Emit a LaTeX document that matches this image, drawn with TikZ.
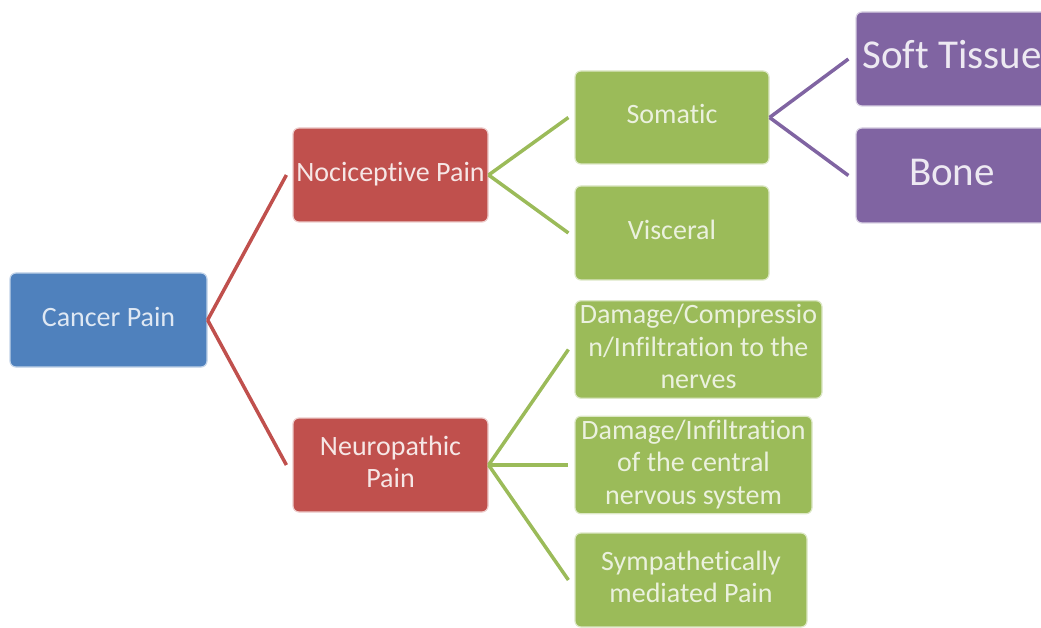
\documentclass[tikz,border=0pt]{standalone}
\usepackage{fontspec}
\setmainfont[Ligatures=NoCommon]{Carlito}
\definecolor{cblue}{HTML}{4F81BD}
\definecolor{cred}{HTML}{C0504D}
\definecolor{cgreen}{HTML}{9BBB59}
\definecolor{cpurple}{HTML}{8064A2}
% centred multi-line text that may run past the box edges
\newcommand{\boxtext}[1]{\makebox[0pt][c]{\raisebox{-2pt}{\begin{tabular}{@{}c@{}}#1\end{tabular}}}}
\tikzset{
  box/.style={rectangle, rounded corners=6pt, line width=1.2pt, inner sep=0pt,
    font=\fontsize{28}{32.5}\selectfont},
  bluebox/.style={box, fill=cblue, draw=cblue!35!white, text=cblue!18!white},
  redbox/.style={box, fill=cred, draw=cred!30!white, text=cred!14!white},
  greenbox/.style={box, fill=cgreen, draw=cgreen!35!white, text=cgreen!20!white},
  purplebox/.style={box, fill=cpurple, draw=cpurple!30!white, text=cpurple!14!white,
    font=\fontsize{41}{48}\selectfont},
  link/.style={line width=3.5pt},
  redlink/.style={link, draw=cred},
  greenlink/.style={link, draw=cgreen},
  purplelink/.style={link, draw=cpurple}
}
\begin{document}
\begin{tikzpicture}[x=1pt, y=-1pt]
  \useasboundingbox (0,0) rectangle (1041,628);
  \clip (0,0) rectangle (1041,628);

  % root
  \node[bluebox, minimum width=197pt, minimum height=94pt] (cancer) at (108.5,320) {\boxtext{Cancer Pain}};

  % first level
  \node[redbox, minimum width=195pt, minimum height=94pt] (noci) at (390.5,175) {\boxtext{Nociceptive Pain}};
  \node[redbox, minimum width=195pt, minimum height=94pt] (neuro) at (390.5,465) {\boxtext{Neuropathic\\Pain}};

  % nociceptive branch
  \node[greenbox, minimum width=194pt, minimum height=93pt] (somatic) at (672,117.5) {\boxtext{Somatic}};
  \node[greenbox, minimum width=194pt, minimum height=94pt] (visceral) at (672,233) {\boxtext{Visceral}};

  % somatic branch
  \node[purplebox, minimum width=192pt, minimum height=94pt] (soft) at (952,59) {\boxtext{Soft Tissue}};
  \node[purplebox, minimum width=192pt, minimum height=95pt] (bone) at (952,175.5) {\boxtext{Bone}};

  % neuropathic branch
  \node[greenbox, minimum width=247pt, minimum height=95pt] (compress) at (698.5,349.5)
    {\boxtext{Damage/Compressio\\n/Infiltration to the\\nerves}};
  \node[greenbox, minimum width=237pt, minimum height=94pt] (central) at (693.5,465)
    {\boxtext{Damage/Infiltration\\of the central\\nervous system}};
  \node[greenbox, minimum width=232pt, minimum height=94pt] (sympa) at (691,580)
    {\boxtext{Sympathetically\\mediated Pain}};

  % connectors
  \draw[redlink] (cancer.east) -- ([xshift=-6pt]noci.west);
  \draw[redlink] (cancer.east) -- ([xshift=-6pt]neuro.west);
  \draw[greenlink] (noci.east) -- ([xshift=-6pt]somatic.west);
  \draw[greenlink] (noci.east) -- ([xshift=-6pt]visceral.west);
  \draw[purplelink] (somatic.east) -- ([xshift=-7pt]soft.west);
  \draw[purplelink] (somatic.east) -- ([xshift=-7pt]bone.west);
  \draw[greenlink] (neuro.east) -- ([xshift=-6pt]compress.west);
  \draw[greenlink] (neuro.east) -- ([xshift=-6pt]central.west);
  \draw[greenlink] (neuro.east) -- ([xshift=-6pt]sympa.west);
\end{tikzpicture}
\end{document}
